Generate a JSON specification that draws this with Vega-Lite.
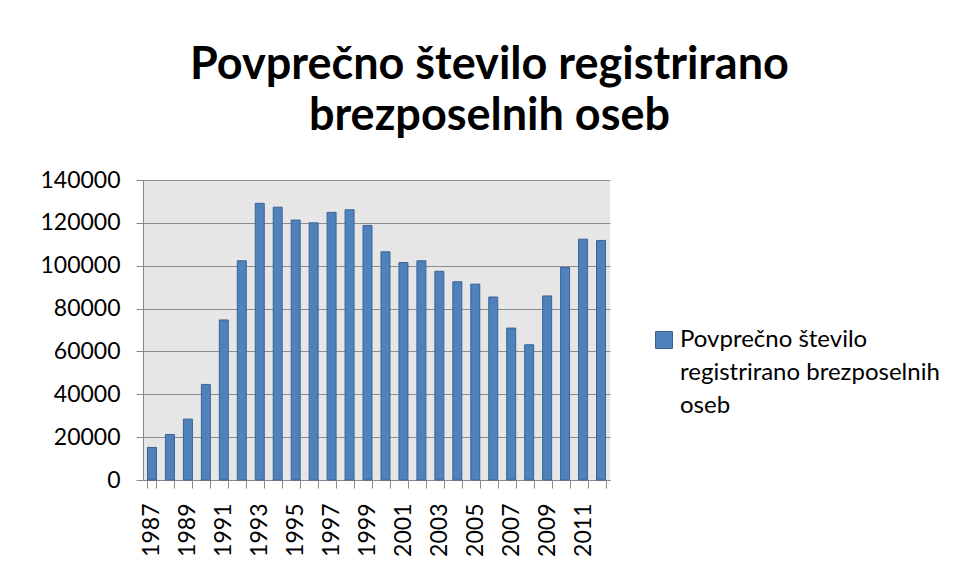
{
  "$schema": "https://vega.github.io/schema/vega-lite/v6.json",
  "width": 467,
  "height": 300,
  "autosize": {"type": "none"},
  "padding": {"left": 143, "top": 180, "right": 350, "bottom": 100},
  "background": "white",
  "title": {
    "text": ["Povprečno število registrirano", "brezposelnih oseb"],
    "font": "Lato",
    "fontSize": 45,
    "fontWeight": "bold",
    "color": "black",
    "anchor": "middle",
    "frame": "group",
    "dx": 113,
    "lineHeight": 51,
    "offset": 30
  },
  "data": {
    "values": [
      {"leto": 1987, "stevilo": 15200},
      {"leto": 1988, "stevilo": 21200},
      {"leto": 1989, "stevilo": 28400},
      {"leto": 1990, "stevilo": 44600},
      {"leto": 1991, "stevilo": 74700},
      {"leto": 1992, "stevilo": 102300},
      {"leto": 1993, "stevilo": 129100},
      {"leto": 1994, "stevilo": 127300},
      {"leto": 1995, "stevilo": 121300},
      {"leto": 1996, "stevilo": 120000},
      {"leto": 1997, "stevilo": 124900},
      {"leto": 1998, "stevilo": 126100},
      {"leto": 1999, "stevilo": 118800},
      {"leto": 2000, "stevilo": 106500},
      {"leto": 2001, "stevilo": 101500},
      {"leto": 2002, "stevilo": 102300},
      {"leto": 2003, "stevilo": 97400},
      {"leto": 2004, "stevilo": 92500},
      {"leto": 2005, "stevilo": 91400},
      {"leto": 2006, "stevilo": 85400},
      {"leto": 2007, "stevilo": 70900},
      {"leto": 2008, "stevilo": 63100},
      {"leto": 2009, "stevilo": 85900},
      {"leto": 2010, "stevilo": 99200},
      {"leto": 2011, "stevilo": 112400},
      {"leto": 2012, "stevilo": 111800}
    ]
  },
  "mark": {"type": "bar", "stroke": "#3a6494", "strokeWidth": 1},
  "encoding": {
    "x": {
      "field": "leto",
      "type": "ordinal",
      "scale": {"paddingInner": 0.5, "paddingOuter": 0.25},
      "axis": {
        "title": null,
        "labelAngle": -90,
        "labelFont": "Lato",
        "labelFontSize": 23,
        "labelColor": "black",
        "labelExpr": "datum.value % 2 == 1 ? datum.label : ''",
        "labelOverlap": false,
        "tickBand": "extent",
        "tickSize": 8,
        "tickColor": "#888888",
        "domainColor": "#888888",
        "labelPadding": 15,
        "grid": false
      }
    },
    "y": {
      "field": "stevilo",
      "type": "quantitative",
      "scale": {"domain": [0, 140000], "nice": false},
      "axis": {
        "title": null,
        "values": [0, 20000, 40000, 60000, 80000, 100000, 120000, 140000],
        "format": "d",
        "labelFont": "Lato",
        "labelFontSize": 23,
        "labelColor": "black",
        "tickSize": 7,
        "tickColor": "#888888",
        "domainColor": "#888888",
        "gridColor": "#8c8c8c",
        "gridWidth": 1.2,
        "labelPadding": 16
      }
    },
    "color": {
      "datum": "Povprečno število registrirano brezposelnih oseb",
      "type": "nominal",
      "scale": {"range": ["#4f81bd"]},
      "legend": {
        "orient": "none",
        "legendX": 509,
        "legendY": 148,
        "title": null,
        "padding": 0,
        "symbolType": "square",
        "symbolSize": 289,
        "symbolStrokeColor": "#3a6494",
        "symbolStrokeWidth": 1,
        "labelFont": "Lato",
        "labelFontSize": 24,
        "labelColor": "black",
        "labelLimit": 0,
        "labelOffset": 4,
        "labelExpr": "['Povprečno število', 'registrirano brezposelnih', 'oseb']",
        "encode": {"labels": {"update": {"lineHeight": {"value": 33}}}}
      }
    }
  },
  "config": {"view": {"fill": "#e6e6e6", "stroke": null}}
}
